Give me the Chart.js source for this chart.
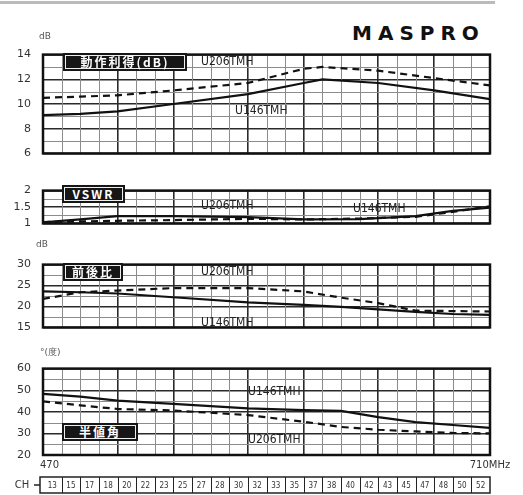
<!DOCTYPE html>
<html>
<head>
<meta charset="utf-8">
<script src="https://cdn.jsdelivr.net/npm/chart.js@4.4.1/dist/chart.umd.min.js"></script>
<style>
body { margin: 0; background: #fff; }
#wrap { position: relative; width: 523px; height: 495px; overflow: hidden; font-family: "DejaVu Sans", sans-serif; color: #222; }
canvas { position: absolute; left: 0; }
.tag { position: absolute; box-sizing: border-box; height: 18px; line-height: 18px; text-align: center;
       background: #161616; color: #fff; font: bold 12px "Noto Sans CJK JP", sans-serif; letter-spacing: 2px;
       box-shadow: inset 0 0 0 2px #161616, inset 0 0 0 3px #eee; }
.lbl { position: absolute; font: 12px "DejaVu Sans Condensed", sans-serif; color: #222; }
.unit { position: absolute; font: 9px "DejaVu Sans", sans-serif; color: #555; }
#logo { position: absolute; left: 352px; top: 21px; font: 900 20px "DejaVu Sans", sans-serif; letter-spacing: 6px; color: #111; }
#topline { position: absolute; left: 0; top: 1px; width: 495px; height: 3px; background: #bbb; }
</style>
</head>
<body>
<div id="wrap">
  <div id="topline"></div>
  <div id="logo">MASPRO</div>
  <canvas id="c1"></canvas>
  <canvas id="c2"></canvas>
  <canvas id="c3"></canvas>
  <canvas id="c4"></canvas>

  <div class="unit" style="left:39px;top:31px;">dB</div>
  <div class="tag" style="left:63px;top:53px;width:124px;">動作利得(dB)</div>
  <div class="lbl" style="left:201px;top:54px;">U206TMH</div>
  <div class="lbl" style="left:235px;top:103px;">U146TMH</div>

  <div class="tag" style="left:62px;top:185px;width:63px;">VSWR</div>
  <div class="lbl" style="left:201px;top:198px;">U206TMH</div>
  <div class="lbl" style="left:353px;top:201px;">U146TMH</div>

  <div class="unit" style="left:36px;top:239px;">dB</div>
  <div class="tag" style="left:63px;top:263px;width:60px;">前後比</div>
  <div class="lbl" style="left:201px;top:264px;">U206TMH</div>
  <div class="lbl" style="left:201px;top:315px;">U146TMH</div>

  <div class="unit" style="left:40px;top:346px;">°(度)</div>
  <div class="tag" style="left:62px;top:423px;width:76px;">半値角</div>
  <div class="lbl" style="left:248px;top:384px;">U146TMH</div>
  <div class="lbl" style="left:248px;top:432px;">U206TMH</div>
</div>

<script>
// frequency (MHz) points, one array per panel
const gainFreq = [470, 490, 510, 540, 580, 610, 620, 650, 680, 710];
const gainU14 = [9.1, 9.2, 9.4, 10.0, 10.8, 11.7, 12.0, 11.7, 11.1, 10.4];
const gainU20 = [10.5, 10.6, 10.7, 11.1, 11.7, 12.85, 13.0, 12.7, 12.1, 11.5];

const vswrFreq = [470, 490, 510, 540, 580, 610, 640, 670, 690, 710];
const vswrU14 = [1.03, 1.12, 1.22, 1.22, 1.19, 1.12, 1.13, 1.22, 1.38, 1.48];
const vswrU20 = [1.04, 1.06, 1.08, 1.10, 1.14, 1.12, 1.15, 1.20, 1.35, 1.52];

const fbFreq = [470, 490, 510, 540, 580, 610, 630, 650, 670, 690, 710];
const fbU14 = [23.6, 23.4, 23.1, 22.2, 21.0, 20.4, 19.9, 19.3, 18.7, 18.2, 18.0];
const fbU20 = [21.8, 23.4, 23.8, 24.4, 24.4, 23.6, 22.1, 20.8, 19.0, 18.9, 18.8];

const hpFreq = [470, 490, 510, 540, 580, 610, 630, 650, 670, 690, 710];
const hpU14 = [48.3, 47.0, 45.2, 43.7, 41.6, 40.8, 40.4, 37.5, 35.2, 33.9, 32.6];
const hpU20 = [44.8, 43.0, 41.3, 40.6, 38.5, 35.4, 33.0, 31.7, 30.9, 30.2, 30.0];

// tick labels
const gainTicks = [6, 8, 10, 12, 14];
const vswrTicks = [1, 1.5, 2];
const fbTicks = [15, 20, 25, 30];
const hpTicks = [20, 30, 40, 50, 60];
const majorFreqs = [470, 510, 540, 580, 610, 650, 680, 710];
const chLabels = [13, 15, 17, 18, 20, 22, 23, 25, 27, 28, 30, 32, 33, 35, 37, 38, 40, 42, 43, 45, 47, 48, 50, 52];

const gridFreqs = [];
for (let f = 470; f <= 710; f += 10) gridFreqs.push(f);

const frame = {
    id: 'frame',
    afterDatasetsDraw(chart) {
        const { ctx, chartArea: a } = chart;
        ctx.save();
        ctx.strokeStyle = '#111';
        ctx.lineWidth = 2.5;
        ctx.strokeRect(a.left, a.top, a.right - a.left, a.bottom - a.top);
        ctx.restore();
    }
};

// thin grid lines between the heavy ones
function minorGrid(yTicks, yStep) {
    return {
        id: 'minorGrid',
        beforeDatasetsDraw(chart) {
            const { ctx, chartArea: a, scales: { x, y } } = chart;
            ctx.save();
            ctx.strokeStyle = '#8c8c8c';
            ctx.lineWidth = 1;
            ctx.beginPath();
            gridFreqs.forEach(f => {
                if (majorFreqs.includes(f)) return;
                const px = Math.round(x.getPixelForValue(f)) + 0.5;
                ctx.moveTo(px, a.top);
                ctx.lineTo(px, a.bottom);
            });
            for (let v = y.min; v <= y.max + 1e-6; v += yStep) {
                if (yTicks.some(t => Math.abs(t - v) < 1e-6)) continue;
                const py = Math.round(y.getPixelForValue(v)) + 0.5;
                ctx.moveTo(a.left, py);
                ctx.lineTo(a.right, py);
            }
            ctx.stroke();
            ctx.restore();
        }
    };
}

// channel strip under the last panel, laid out on the x scale
const channelRow = {
    id: 'channelRow',
    afterDraw(chart) {
        const { ctx } = chart;
        const xs = chart.scales.x;
        const top = 127, bottom = 143;
        ctx.save();
        ctx.fillStyle = '#333';
        ctx.font = '10px "DejaVu Sans"';
        ctx.textBaseline = 'middle';
        ctx.textAlign = 'left';
        ctx.fillText('470', xs.getPixelForValue(470) - 3, 115);
        ctx.textAlign = 'center';
        ctx.fillText('710MHz', xs.getPixelForValue(710), 115);
        ctx.fillText('CH', 22, (top + bottom) / 2);
        ctx.strokeStyle = '#222';
        ctx.lineWidth = 1.5;
        const left = xs.getPixelForValue(470) - 3, right = xs.getPixelForValue(710);
        ctx.strokeRect(left, top, right - left, bottom - top);
        ctx.beginPath();
        ctx.moveTo(34, (top + bottom) / 2);
        ctx.lineTo(left, (top + bottom) / 2);
        ctx.stroke();
        ctx.lineWidth = 1;
        ctx.font = '8px "DejaVu Sans Condensed"';
        chLabels.forEach((ch, i) => {
            const x0 = xs.getPixelForValue(gridFreqs[i]);
            const x1 = xs.getPixelForValue(gridFreqs[i + 1]);
            if (i > 0) {
                ctx.beginPath();
                ctx.moveTo(Math.round(x0) + 0.5, top);
                ctx.lineTo(Math.round(x0) + 0.5, bottom);
                ctx.stroke();
            }
            ctx.fillText(String(ch), (x0 + x1) / 2, (top + bottom) / 2 + 1);
        });
        ctx.restore();
    }
};

function makePanel(id, top, height, padTop, padBottom, yMin, yMax, yStep, yTicks, freq, u14, u20, extra) {
    const cv = document.getElementById(id);
    cv.style.top = top + 'px';
    cv.width = 523;
    cv.height = height;
    return new Chart(cv, {
        type: 'line',
        data: {
            datasets: [{
                label: 'U146TMH',
                data: freq.map((f, i) => ({ x: f, y: u14[i] })),
                borderColor: '#111',
                borderWidth: 2.2,
                pointRadius: 0,
                tension: 0
            }, {
                label: 'U206TMH',
                data: freq.map((f, i) => ({ x: f, y: u20[i] })),
                borderColor: '#111',
                borderWidth: 2.2,
                borderDash: [7, 5],
                pointRadius: 0,
                tension: 0
            }]
        },
        options: {
            responsive: false,
            animation: false,
            layout: { padding: { top: padTop, bottom: padBottom, left: 0, right: 33 } },
            plugins: { legend: { display: false }, tooltip: { enabled: false } },
            scales: {
                x: {
                    type: 'linear', min: 470, max: 710,
                    afterBuildTicks: s => { s.ticks = majorFreqs.map(v => ({ value: v })); },
                    ticks: { display: false, autoSkip: false },
                    grid: { drawTicks: false, color: '#2a2a2a', lineWidth: 1.6 },
                    border: { display: false },
                    afterFit: s => { s.height = 0; }
                },
                y: {
                    min: yMin, max: yMax,
                    afterBuildTicks: s => { s.ticks = yTicks.map(v => ({ value: v })); },
                    ticks: {
                        autoSkip: false, padding: 12, color: '#333',
                        font: { family: 'DejaVu Sans', size: 11 },
                        callback: v => String(v)
                    },
                    grid: { drawTicks: false, color: '#2a2a2a', lineWidth: 1.4 },
                    border: { display: false },
                    afterFit: s => { s.width = 43; }
                }
            }
        },
        plugins: [frame, minorGrid(yTicks, yStep)].concat(extra || [])
    });
}

makePanel('c1', 36, 136, 13, 12, 6, 14, 1, gainTicks, gainFreq, gainU14, gainU20);
makePanel('c2', 172, 70, 8, 7, 1, 2, 0.25, vswrTicks, vswrFreq, vswrU14, vswrU20);
makePanel('c3', 246, 100, 11, 6, 15, 30, 2.5, fbTicks, fbFreq, fbU14, fbU20);
makePanel('c4', 350, 145, 13, 40, 20, 60, 5, hpTicks, hpFreq, hpU14, hpU20, [channelRow]);
</script>
</body>
</html>
